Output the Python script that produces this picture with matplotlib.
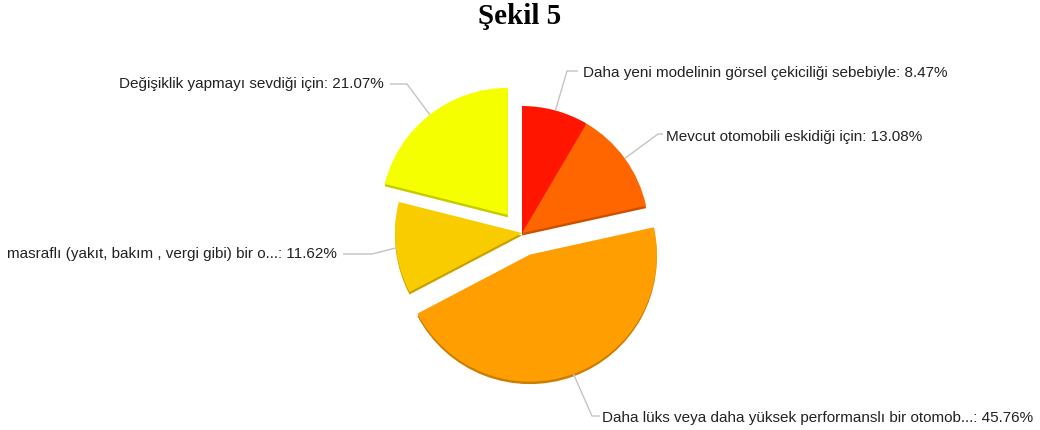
import numpy as np
import matplotlib
matplotlib.use("Agg")
from matplotlib import pyplot as plt
from matplotlib.colors import to_rgb

labels = [
    "Daha yeni modelinin görsel çekiciliği sebebiyle",
    "Mevcut otomobili eskidiği için",
    "Daha lüks veya daha yüksek performanslı bir otomob...",
    "masraflı (yakıt, bakım , vergi gibi) bir o...",
    "Değişiklik yapmayı sevdiği için",
]
shares = [8.47, 13.08, 45.76, 11.62, 21.07]
colors = ["#ff1500", "#ff6600", "#ff9e00", "#f9cc00", "#f6ff00"]
explode_px = [0, 0, 23, 0, 23]

W, H = 1040, 430
fig = plt.figure(figsize=(W / 100, H / 100), dpi=100)
ax = fig.add_axes([0, 0, 1, 1])

cx, cy, r = 522, H - 233, 127

# darker copy a little lower gives the thin 3d rim on the lower edges
shade = [tuple(c * 0.8 for c in to_rgb(col)) for col in colors]
ax.pie(shares, colors=shade, explode=explode_px, startangle=90, counterclock=False,
       center=(cx, cy - 2.5), radius=r, frame=True)
wedges, _ = ax.pie(shares, colors=colors, explode=explode_px, startangle=90,
                   counterclock=False, center=(cx, cy), radius=r, frame=True)
ax.set_xlim(0, W)
ax.set_ylim(0, H)
ax.set_aspect("equal")
ax.axis("off")

# elbow of each leader line and where its text goes (pixels from top-left)
elbows = [(567, 71), (658, 134), (592, 416), (372, 254), (407, 84)]
ends = [(578, 71), (663, 134), (600, 416), (343, 254), (390, 84)]
text_pos = [(583, 73), (666, 137), (602, 418), (337, 254), (384, 84)]
aligns = ["left", "left", "left", "right", "right"]

for w, lab, val, el, en, tp, ha in zip(wedges, labels, shares, elbows, ends,
                                       text_pos, aligns):
    mid = np.deg2rad((w.theta1 + w.theta2) / 2)
    ax0 = w.center[0] + w.r * np.cos(mid)
    ay0 = w.center[1] + w.r * np.sin(mid)
    ax.plot([ax0, el[0], en[0]], [ay0, H - el[1], H - en[1]],
            color="#c4c4c4", lw=1, solid_capstyle="butt")
    ax.text(tp[0], H - tp[1], f"{lab}: {val:.2f}%", ha=ha, va="center",
            fontsize=11, family="Liberation Sans", color="#222222")

fig.text(0.5, 1 - 16 / H, "Şekil 5", ha="center", va="center", fontsize=21,
         fontweight="bold", family="Liberation Serif")

fig.savefig("out.png", dpi=100)
